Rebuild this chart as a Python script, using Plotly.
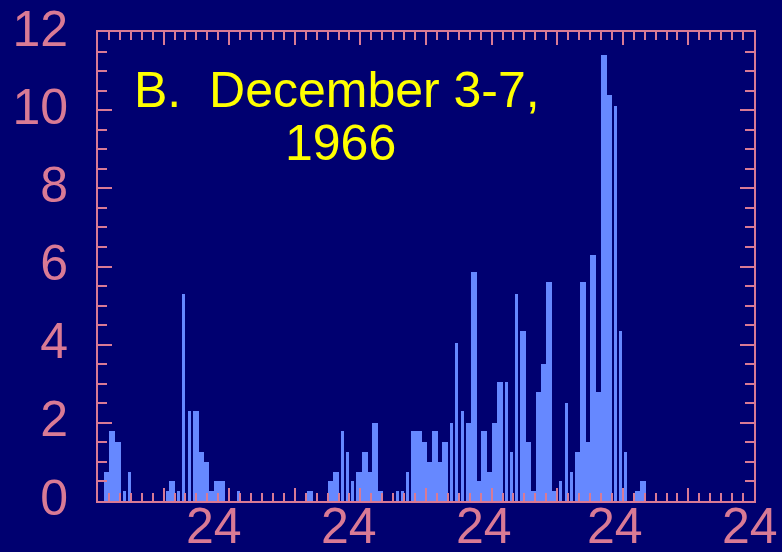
import plotly.graph_objects as go

# Hour bins (start, end), hours from start of Dec 3
bar_start = [1.10, 2.01, 3.11, 4.57, 5.49, 12.44, 12.99, 14.45, 15.36, 16.46,
             17.38, 18.47, 19.39, 20.30, 21.22, 25.43, 38.23, 42.07, 42.99, 44.45,
             45.36, 46.28, 47.19, 48.29, 49.39, 50.12, 51.22, 54.51, 55.42, 56.34,
             57.25, 59.26, 60.18, 61.09, 62.19, 62.92, 64.39, 65.30, 66.40, 67.31,
             68.23, 69.32, 70.06, 71.15, 72.07, 72.98, 74.45, 75.36, 76.28, 77.19,
             78.29, 79.20, 80.12, 81.03, 81.95, 83.04, 84.32, 85.42, 86.34, 87.25,
             88.17, 89.26, 89.99, 91.09, 92.00, 93.10, 94.39, 95.30, 96.21, 98.23,
             99.14]
bar_end = [2.01, 3.11, 4.21, 5.12, 6.04, 12.99, 14.08, 15.00, 15.91, 17.01,
           18.47, 19.39, 20.30, 21.22, 23.23, 25.97, 39.33, 42.99, 44.08, 45.00,
           45.91, 46.83, 48.29, 49.39, 50.12, 51.22, 52.13, 55.06, 55.97, 56.89,
           59.26, 60.18, 61.09, 62.19, 62.92, 64.02, 64.94, 65.85, 66.95, 68.23,
           69.32, 70.06, 71.15, 72.07, 72.98, 74.08, 75.00, 75.91, 76.83, 78.29,
           79.20, 80.12, 81.03, 81.95, 83.04, 83.96, 84.87, 85.97, 86.89, 88.17,
           89.26, 89.99, 91.09, 92.00, 93.10, 94.02, 94.93, 95.85, 96.76, 99.14,
           100.24]
values = [0.75, 1.8, 1.5, 0.25, 0.75, 0.25, 0.5, 0.25, 5.3, 2.3,
          2.3, 1.25, 1.0, 0.25, 0.5, 0.25, 0.25, 0.5, 0.75, 1.8,
          1.25, 0.5, 0.75, 1.25, 0.75, 2.0, 0.25, 0.25, 0.25, 0.75,
          1.8, 1.5, 1.0, 1.8, 1.0, 1.5, 2.0, 4.05, 2.3, 2.0,
          5.85, 0.5, 1.8, 0.75, 2.0, 3.05, 3.05, 1.25, 5.3, 4.35,
          1.5, 0.25, 2.8, 3.5, 5.6, 0.25, 0.5, 2.5, 0.75, 1.25,
          5.6, 1.5, 6.3, 2.8, 11.4, 10.4, 10.1, 4.35, 1.25, 0.25,
          0.5]

x_label_hours = [21.3, 46.0, 70.7, 94.5, 119.3]
x_labels = ["24", "24", "24", "24", "24"]

title_line1 = "B.\u00a0 December 3-7,"
title_line2 = "1966"

BG = "#000070"
PINK = "#d97a95"
BAR = "#6688ff"
YELLOW = "#ffff00"
FONT = "Liberation Sans, Arial, sans-serif"

centers = [(s + e) / 2 for s, e in zip(bar_start, bar_end)]
widths = [e - s for s, e in zip(bar_start, bar_end)]

fig = go.Figure()
fig.add_trace(go.Bar(x=centers, y=values, width=widths,
                     marker=dict(color=BAR, line=dict(width=0)),
                     hoverinfo="skip", showlegend=False))

axis_common = dict(showline=True, linecolor=PINK, linewidth=2, mirror="ticks",
                   showgrid=False, zeroline=False, ticks="inside",
                   tickcolor=PINK, tickwidth=2, automargin=False)

fig.update_xaxes(range=[0, 120], tickmode="linear", tick0=0, dtick=12,
                 ticklen=13, showticklabels=False,
                 minor=dict(tick0=0, dtick=2, ticks="inside", ticklen=8,
                            tickcolor=PINK, tickwidth=2, showgrid=False),
                 **axis_common)
fig.update_yaxes(range=[0, 12], tickmode="linear", tick0=0, dtick=2,
                 ticklen=14, tickfont=dict(family=FONT, size=50, color=PINK),
                 ticklabelstandoff=18, ticklabelshift=-4,
                 minor=dict(tick0=0, dtick=0.5, ticks="inside", ticklen=9,
                            tickcolor=PINK, tickwidth=2, showgrid=False),
                 **axis_common)

for h, lab in zip(x_label_hours, x_labels):
    fig.add_annotation(x=h, xref="x", y=-0.0535, yref="paper", text=lab,
                       showarrow=False, xanchor="center", yanchor="middle",
                       font=dict(family=FONT, size=50, color=PINK))

fig.add_annotation(x=0.3636, xref="paper", y=0.876, yref="paper", text=title_line1,
                   showarrow=False, xanchor="center", yanchor="middle",
                   font=dict(family=FONT, size=50, color=YELLOW))
fig.add_annotation(x=0.369, xref="paper", y=0.764, yref="paper", text=title_line2,
                   showarrow=False, xanchor="center", yanchor="middle",
                   font=dict(family=FONT, size=50, color=YELLOW))

fig.update_layout(width=782, height=552, paper_bgcolor=BG, plot_bgcolor=BG,
                  margin=dict(l=98, r=28, t=32, b=51), bargap=0,
                  showlegend=False)

fig.write_html("out.html")
